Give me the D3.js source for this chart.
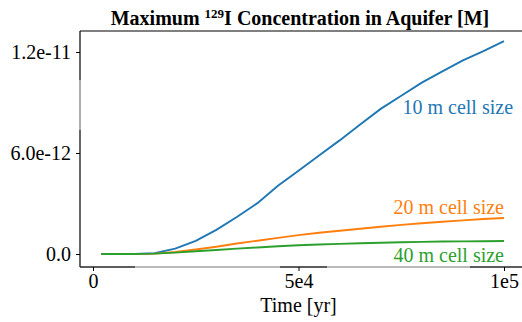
<!DOCTYPE html>
<html>
<head>
<meta charset="utf-8">
<script src="https://cdn.jsdelivr.net/npm/d3@7"></script>
<style>
  body { margin: 0; background: #fff; }
  svg text { font-family: "Liberation Serif", "Times New Roman", serif; }
</style>
</head>
<body>
<div id="chart"></div>
<script>
// data (concentration in units of 1e-12 M)
const times = [2000, 5000, 10000, 15000, 20000, 25000, 30000, 35000, 40000, 45000, 50000,
               55000, 60000, 65000, 70000, 75000, 80000, 85000, 90000, 95000, 100000];
const conc10m = [0, 0, 0, 0.05, 0.32, 0.78, 1.43, 2.2, 3.02, 4.05, 4.95,
                 5.85, 6.75, 7.7, 8.62, 9.4, 10.18, 10.85, 11.5, 12.05, 12.65];
const conc20m = [0, 0, 0, 0.02, 0.12, 0.27, 0.43, 0.62, 0.79, 0.96, 1.12,
                 1.26, 1.38, 1.5, 1.62, 1.73, 1.83, 1.92, 2.0, 2.08, 2.14];
const conc40m = [0, 0, 0, 0.02, 0.08, 0.16, 0.24, 0.32, 0.39, 0.46, 0.52,
                 0.56, 0.6, 0.64, 0.67, 0.7, 0.72, 0.74, 0.75, 0.76, 0.77];
const seriesNames = ["10 m cell size", "20 m cell size", "40 m cell size"];
const xTicks = [0, 5e4, 1e5];
const xTickLabels = ["0", "5e4", "1e5"];
const yTicks = [0, 6e-12, 1.2e-11];
const yTickLabels = ["0.0", "6.0e-12", "1.2e-11"];

const width = 522, height = 322;
const plot = {left: 80, right: 522, top: 31, bottom: 267};
const colors = ["#1f77b4", "#ff7f0e", "#2ca02c"];
const serif = "'Liberation Serif', 'Times New Roman', serif";

const svg = d3.select("#chart")
    .append("svg")
    .attr("width", width)
    .attr("height", height);

const x = d3.scaleLinear().domain([0, 1e5]).range([93, 504]);
const y = d3.scaleLinear().domain([0, 1.2e-11]).range([254, 52]);

// lines
const allSeries = [conc10m, conc20m, conc40m];
const line = d3.line()
    .x(d => x(d[0]))
    .y(d => y(d[1] * 1e-12));

allSeries.forEach((vals, i) => {
    const pts = times.map((t, j) => [t, vals[j]]);
    svg.append("path")
        .datum(pts)
        .attr("fill", "none")
        .attr("stroke", colors[i])
        .attr("stroke-width", 1.9)
        .attr("d", line);
});

// line labels
const labelY = [8.3e-12, 2.35e-12, -0.45e-12];
const labelX = [1e5 + 2200, 1e5, 1e5];
seriesNames.forEach((name, i) => {
    svg.append("text")
        .attr("x", x(labelX[i]))
        .attr("y", y(labelY[i]))
        .attr("text-anchor", "end")
        .attr("fill", colors[i])
        .style("font-family", serif)
        .style("font-size", "20px")
        .text(name);
});

// frame (spines)
svg.append("line")
    .attr("x1", plot.left).attr("x2", plot.right)
    .attr("y1", plot.top).attr("y2", plot.top)
    .attr("stroke", "#000").attr("stroke-width", 1.2);
svg.append("line")
    .attr("x1", plot.left).attr("x2", plot.left)
    .attr("y1", plot.top).attr("y2", plot.bottom)
    .attr("stroke", "#000").attr("stroke-width", 1.2);
// faded part of left spine
svg.append("line")
    .attr("x1", plot.left).attr("x2", plot.left)
    .attr("y1", 80).attr("y2", 130)
    .attr("stroke", "#ccc").attr("stroke-width", 1.4);
svg.append("line")
    .attr("x1", plot.left).attr("x2", plot.right)
    .attr("y1", plot.bottom).attr("y2", plot.bottom)
    .attr("stroke", "#777").attr("stroke-width", 1.2);
// darker pieces of the bottom spine
[[plot.left, 135], [280, 327], [470, plot.right]].forEach(s => {
    svg.append("line")
        .attr("x1", s[0]).attr("x2", s[1])
        .attr("y1", plot.bottom).attr("y2", plot.bottom)
        .attr("stroke", "#000").attr("stroke-width", 1.2);
});

// x axis
const xAxis = svg.append("g")
    .attr("transform", `translate(0, ${plot.bottom})`)
    .call(d3.axisBottom(x).tickValues(xTicks)
        .tickFormat((d, i) => xTickLabels[i]).tickSize(4).tickPadding(3))
    .attr("font-family", serif)
    .attr("font-size", 20);
xAxis.select(".domain").remove();
xAxis.selectAll("text").attr("fill", "#000");

svg.append("text")
    .attr("x", x(5e4))
    .attr("y", 312)
    .attr("text-anchor", "middle")
    .style("font-family", serif)
    .style("font-size", "20px")
    .text("Time [yr]");

// y axis
const yAxis = svg.append("g")
    .attr("transform", `translate(${plot.left}, 0)`)
    .call(d3.axisLeft(y).tickValues(yTicks)
        .tickFormat((d, i) => yTickLabels[i]).tickSize(4).tickPadding(5))
    .attr("font-family", serif)
    .attr("font-size", 20);
yAxis.select(".domain").remove();
yAxis.selectAll("text").attr("fill", "#000");

// title
const title = svg.append("text")
    .attr("x", 300)
    .attr("y", 25)
    .attr("text-anchor", "middle")
    .style("font-family", serif)
    .style("font-size", "20px")
    .style("font-weight", "bold");
title.append("tspan").text("Maximum ");
title.append("tspan").attr("dy", -7).style("font-size", "13px").text("129");
title.append("tspan").attr("dy", 7).text("I Concentration in Aquifer [M]");
</script>
</body>
</html>
